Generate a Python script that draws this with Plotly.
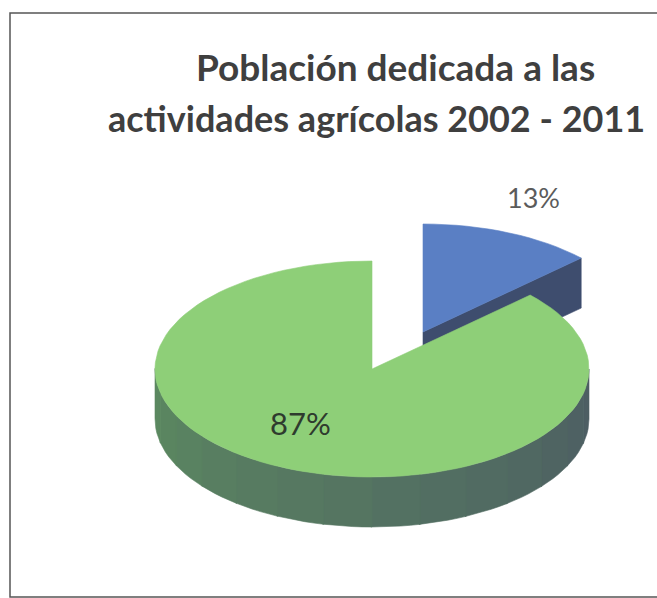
import numpy as np
import plotly.graph_objects as go

# ---- data ----
categories = ["Otras actividades", "Actividades agrícolas"]
values = [13, 87]
label_text = ["13%", "87%"]
title_lines = ["Población dedicada a las", "actividades agrícolas 2002 - 2011"]
top_colors = ["#5a7fc4", "#8ecf78"]
side_colors = [("#4a5f8a", "#3e4d6e"), ("#5c8a60", "#4c5c63")]

# ---- geometry (pixel space) ----
W, H = 657, 598
CX, CY = 372, 369      # centre of top face ellipse
A, B = 217, 108        # semi-axes of ellipse
DEPTH = 50             # thickness of the pie
explode = [(51, -37), (0, 0)]

total = float(sum(values))
cum = np.concatenate([[0], np.cumsum(values)]) / total * 360.0


def pt(theta, ox, oy, dz=0.0):
    t = np.radians(theta)
    return CX + ox + A * np.sin(t), CY + oy - B * np.cos(t) + dz


def arc(t1, t2, ox, oy, dz=0.0, n=120):
    ts = np.linspace(t1, t2, max(2, int(abs(t2 - t1) / 360 * n) + 2))
    xs, ys = pt(ts, ox, oy, dz)
    return list(xs), list(ys)


def lerp_color(c1, c2, f):
    a = [int(c1[i:i + 2], 16) for i in (1, 3, 5)]
    b = [int(c2[i:i + 2], 16) for i in (1, 3, 5)]
    c = [round(a[k] + (b[k] - a[k]) * f) for k in range(3)]
    return "rgb(%d,%d,%d)" % tuple(c)


def poly(xs, ys, color, name):
    return go.Scatter(x=xs, y=ys, mode="lines", fill="toself", fillcolor=color,
                      line=dict(color=color, width=0.6), hoverinfo="skip",
                      name=name, showlegend=False)


fig = go.Figure()

for i in range(len(values)):
    t1, t2 = cum[i], cum[i + 1]
    ox, oy = explode[i]
    cs, ce = side_colors[i]
    # visible cut face at end angle
    if 0 < t2 < 180:
        x1, y1 = pt(t2, ox, oy)
        x0, y0 = CX + ox, CY + oy
        fig.add_trace(poly([x0, x1, x1, x0, x0], [y0, y1, y1 + DEPTH, y0 + DEPTH, y0], ce, categories[i]))
    # visible cut face at start angle
    if 180 < t1 < 360:
        x1, y1 = pt(t1, ox, oy)
        x0, y0 = CX + ox, CY + oy
        fig.add_trace(poly([x0, x1, x1, x0, x0], [y0, y1, y1 + DEPTH, y0 + DEPTH, y0], cs, categories[i]))
    # outer wall: front half 90..270
    w1, w2 = max(t1, 90), min(t2, 270)
    if w2 > w1:
        nseg = 14
        edges = np.linspace(w1, w2, nseg + 1)
        for k in range(nseg):
            a1, a2 = edges[k], edges[k + 1] + 0.3
            xt, yt = arc(a1, a2, ox, oy)
            xb, yb = arc(a2, a1, ox, oy, DEPTH)
            f = 1 - (k + 0.5) / nseg  # darker towards the right
            fig.add_trace(poly(xt + xb + [xt[0]], yt + yb + [yt[0]],
                               lerp_color(cs, ce, f), categories[i]))
    # top face
    xa, ya = arc(t1, t2, ox, oy)
    fig.add_trace(poly([CX + ox] + xa + [CX + ox], [CY + oy] + ya + [CY + oy],
                       top_colors[i], categories[i]))

# percentage labels
fig.add_annotation(x=533, y=197, text=label_text[0], showarrow=False,
                   font=dict(family="Lato", size=27, color="#5b5b5b"))
fig.add_annotation(x=300, y=423, text=label_text[1], showarrow=False,
                   font=dict(family="Lato", size=31, color="#2e3b2e"))

# title (two centred lines)
fig.add_annotation(x=395, y=66, text="<b>%s</b>" % title_lines[0], showarrow=False,
                   xanchor="center", yanchor="middle",
                   font=dict(family="Lato", size=37, color="#3f3f3f"))
fig.add_annotation(x=376, y=118, text="<b>%s</b>" % title_lines[1], showarrow=False,
                   xanchor="center", yanchor="middle",
                   font=dict(family="Lato", size=36, color="#3f3f3f"))

# frame
fig.add_shape(type="rect", x0=10, y0=13, x1=W + 5, y1=H - 1,
              line=dict(color="#555555", width=1.5), fillcolor="rgba(0,0,0,0)")

fig.update_layout(
    width=W, height=H,
    margin=dict(l=0, r=0, t=0, b=0),
    paper_bgcolor="white", plot_bgcolor="white",
    xaxis=dict(range=[0, W], visible=False, fixedrange=True),
    yaxis=dict(range=[H, 0], visible=False, fixedrange=True),
    showlegend=False,
)

fig.write_html("out.html")
